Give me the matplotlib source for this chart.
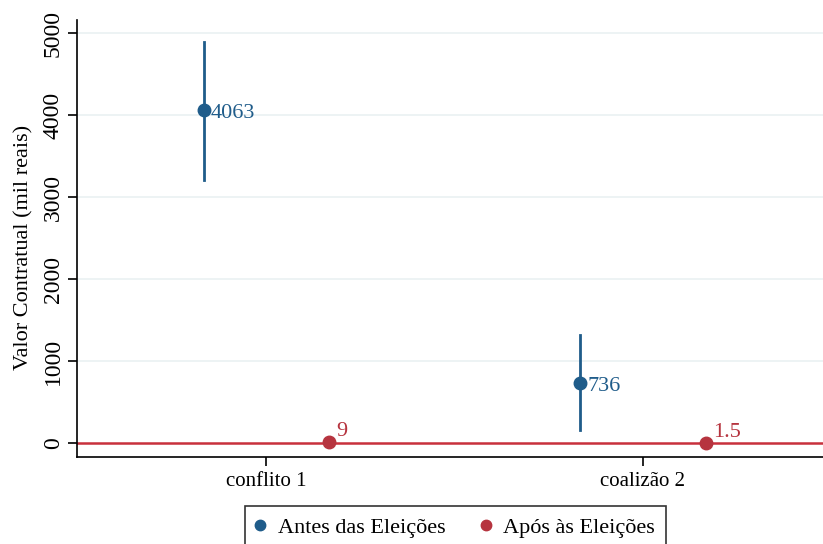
import matplotlib
matplotlib.use("Agg")
import matplotlib.pyplot as plt
from matplotlib.lines import Line2D

plt.rcParams['font.family'] = ['Liberation Serif', 'DejaVu Serif']

categories = ["conflito 1", "coalizão 2"]
antes_vals = [4063, 736]
antes_lo = [3207, 159]
antes_hi = [4890, 1317]
apos_vals = [9, 1.5]
apos_labels = ["9", "1.5"]
antes_labels = ["4063", "736"]
yticks = [0, 1000, 2000, 3000, 4000, 5000]

blue = "#1f5c8a"
red = "#b6343f"

fig = plt.figure(figsize=(8.23, 5.44), dpi=100)
ax = fig.add_axes([77/823, 1-457/544, 1-77/823 + 0.01, (457-20)/544])

xpos = [1, 2]
off = 1/6

for i, x in enumerate(xpos):
    ax.plot([x - off, x - off], [antes_lo[i], antes_hi[i]], color=blue, lw=2, zorder=3)
    ax.plot(x - off, antes_vals[i], 'o', color=blue, ms=9, zorder=4)
    ax.annotate(antes_labels[i], (x - off, antes_vals[i]), xytext=(5, -1),
                textcoords='offset points', va='center_baseline', ha='left',
                color=blue, fontsize=16)

ax.axhline(0, color="#c8303c", lw=1.8, zorder=2)
for i, x in enumerate(xpos):
    ax.plot(x + off, apos_vals[i], 'o', color=red, ms=9, zorder=4)
    ax.annotate(apos_labels[i], (x + off, apos_vals[i]), xytext=(5, 1),
                textcoords='offset points', va='bottom', ha='left',
                color=red, fontsize=16)

ax.set_xlim(0.497, 2.5)
ax.set_ylim(-170, 5160)
ax.set_xticks(xpos)
ax.set_xticklabels(categories, fontsize=15)
ax.set_yticks(yticks)
ax.set_yticklabels([str(v) for v in yticks], rotation=90, va='center', fontsize=17)
ax.set_ylabel("Valor Contratual (mil reais)", fontsize=16)
ax.yaxis.set_label_coords(-0.058, 0.4805)

for t in yticks[1:]:
    ax.axhline(t, color="#eaf1f2", lw=1.2, zorder=1)

for s in ['top', 'right']:
    ax.spines[s].set_visible(False)
for s in ['left', 'bottom']:
    ax.spines[s].set_linewidth(1.2)
ax.tick_params(axis='both', length=6.5, width=1.2, pad=4)
ax.tick_params(axis='y', pad=3)

handles = [Line2D([], [], marker='o', color=blue, ls='none', ms=7.5),
           Line2D([], [], marker='o', color=red, ls='none', ms=7.5)]
leg = fig.legend(handles, ["Antes das Eleições", "Após às Eleições"],
                 loc='upper center', bbox_to_anchor=(455.5/823, 1-506/544),
                 ncol=2, fontsize=16, frameon=True, fancybox=False,
                 edgecolor='black', handletextpad=0.6, columnspacing=1.6,
                 borderpad=0.5, borderaxespad=0, handlelength=0.4)
leg.get_frame().set_linewidth(1.2)

fig.savefig("out.png", dpi=100)
